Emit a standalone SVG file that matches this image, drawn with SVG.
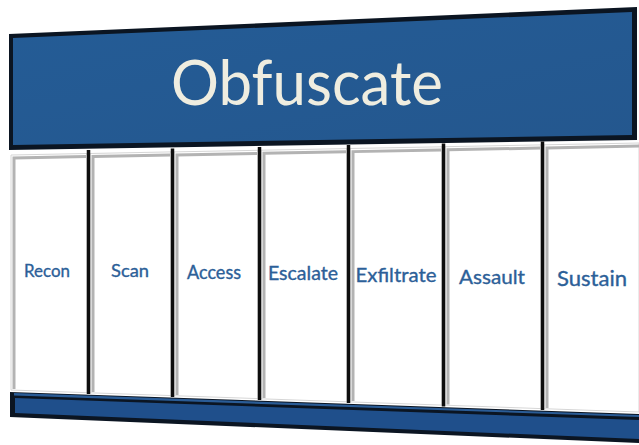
<svg xmlns="http://www.w3.org/2000/svg" width="639" height="445" viewBox="0 0 639 445">
  <defs>
    <linearGradient id="bannerGrad" x1="0" y1="0" x2="1" y2="1">
      <stop offset="0" stop-color="#245c96"/>
      <stop offset="1" stop-color="#24578e"/>
    </linearGradient>
  </defs>
  <style>
    .panel { fill: #ffffff; stroke: #d6d6d6; stroke-width: 1; }
    .bevel { fill: none; stroke: #b3b3b3; stroke-width: 3; stroke-linejoin: miter; }
    .divider { stroke: #0e0e0e; stroke-width: 3.5; }
    .label { font-family: Lato, "Open Sans", "Liberation Sans", sans-serif; fill: #2c6098; stroke: #2c6098; stroke-width: 0.35; text-anchor: middle; }
    .title { font-family: Lato, "Open Sans", "Liberation Sans", sans-serif; fill: #efede0; text-anchor: middle; }
  </style>

  <g id="banner">
    <polygon points="9,34 637,7 637,140 9,150" fill="#0b1522"/>
    <polygon points="13,38 632,12 632,135 13,145" fill="url(#bannerGrad)"/>
    <text class="title" x="307" y="105" font-size="62" textLength="272" lengthAdjust="spacingAndGlyphs">Obfuscate</text>
  </g>

  <g id="base">
    <polygon points="10,392 639,414 639,443 10,417" fill="#0b1522"/>
    <polygon points="14,393 639,415 639,417 14,395.5" fill="#2a5c96"/>
    <polygon points="15,398 639,420 639,439 15,413" fill="#1f4f8b"/>
  </g>

  <g id="recon">
    <polygon class="panel" points="11,155 87,153.5 87,392.7 11,390"/>
    <polyline class="bevel" points="14,389 14,158 86,156.5"/>
    <text class="label" x="47" y="277" font-size="18" textLength="46" lengthAdjust="spacingAndGlyphs">Recon</text>
  </g>
  <g id="scan">
    <polygon class="panel" points="90,153.5 171,151.9 171,395.6 90,392.8"/>
    <polyline class="bevel" points="93,392 93,156.5 170,155"/>
    <text class="label" x="130" y="277" font-size="18" textLength="38" lengthAdjust="spacingAndGlyphs">Scan</text>
  </g>
  <g id="access">
    <polygon class="panel" points="174,151.9 258,150.3 258,398.6 174,395.7"/>
    <polyline class="bevel" points="177,395 177,155 257,153.4"/>
    <text class="label" x="214" y="279" font-size="18.5" textLength="54" lengthAdjust="spacingAndGlyphs">Access</text>
  </g>
  <g id="escalate">
    <polygon class="panel" points="261,150.2 347,148.6 347,401.8 261,398.8"/>
    <polyline class="bevel" points="264,398 264,153.3 346,151.7"/>
    <text class="label" x="303" y="280" font-size="19" textLength="70" lengthAdjust="spacingAndGlyphs">Escalate</text>
  </g>
  <g id="exfiltrate">
    <polygon class="panel" points="350,148.5 442,146.8 442,405.1 350,401.9"/>
    <polyline class="bevel" points="353,401 353,151.6 441,149.9"/>
    <text class="label" x="396" y="282" font-size="19.5" textLength="81" lengthAdjust="spacingAndGlyphs">Exfiltrate</text>
  </g>
  <g id="assault">
    <polygon class="panel" points="445,146.7 541,144.9 541,408.6 445,405.2"/>
    <polyline class="bevel" points="448,404.5 448,149.8 540,148"/>
    <text class="label" x="492" y="284" font-size="20" textLength="66" lengthAdjust="spacingAndGlyphs">Assault</text>
  </g>
  <g id="sustain">
    <polygon class="panel" points="544,144.8 639,143 639,412 544,408.7"/>
    <polyline class="bevel" points="547,408 547,147.9 639,146.1"/>
    <text class="label" x="592" y="286" font-size="20.5" textLength="70" lengthAdjust="spacingAndGlyphs">Sustain</text>
  </g>

  <g id="connectors">
    <line class="divider" x1="88.5" y1="150" x2="88.5" y2="394"/>
    <line class="divider" x1="172.5" y1="148.5" x2="172.5" y2="397"/>
    <line class="divider" x1="259.5" y1="147" x2="259.5" y2="400"/>
    <line class="divider" x1="348.5" y1="145" x2="348.5" y2="403"/>
    <line class="divider" x1="443.5" y1="143.5" x2="443.5" y2="406.5"/>
    <line class="divider" x1="542.5" y1="141.5" x2="542.5" y2="410"/>
  </g>
</svg>
